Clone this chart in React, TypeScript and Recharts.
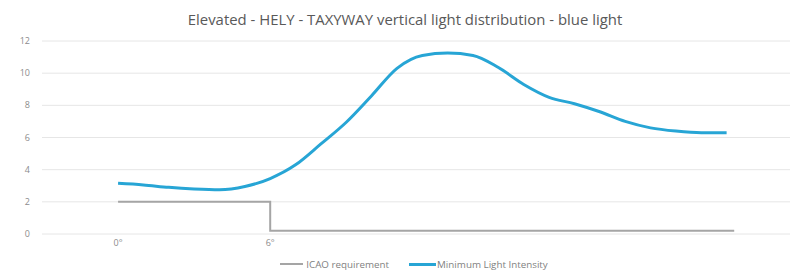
import React from 'react';
import { LineChart, Line, XAxis, YAxis, CartesianGrid, Legend } from 'recharts';

const degrees = [0, 1, 2, 3, 4, 5, 6, 7, 8, 9, 10, 11, 12, 13, 14, 15, 16, 17, 18, 19, 20, 21, 22, 23, 24];
const minIntensity = [3.15, 3.05, 2.9, 2.8, 2.75, 2.95, 3.45, 4.3, 5.6, 6.95, 8.6, 10.3, 11.1, 11.25, 11.1, 10.35, 9.3, 8.5, 8.1, 7.6, 7.0, 6.6, 6.4, 6.3, 6.3];
const icaoX = [0, 6, 6, 24.3];
const icaoY = [2, 2, 0.2, 0.2];
const yTicks = [0, 2, 4, 6, 8, 10, 12];
const xTicks = [0, 6];
const title = 'Elevated - HELY - TAXYWAY vertical light distribution - blue light';
const seriesNames = ['ICAO requirement', 'Minimum Light Intensity'];

const intensityData = degrees.map((d, i) => ({ x: d, intensity: minIntensity[i] }));
const icaoData = icaoX.map((d, i) => ({ x: d, icao: icaoY[i] }));

const FONT = '"Open Sans", sans-serif';
const BLUE = '#27a5d5';
const GRAY = '#a5a5a5';

const LegendContent = () => (
  <div style={{ display: 'flex', justifyContent: 'center', alignItems: 'center', fontFamily: FONT, fontSize: 9.8, color: '#7f7f7f', height: 20, paddingLeft: 26 }}>
    <span style={{ display: 'inline-block', width: 23, height: 2, background: GRAY, marginRight: 3 }} />
    <span style={{ marginRight: 20 }}>{seriesNames[0]}</span>
    <span style={{ display: 'inline-block', width: 27, height: 3, background: BLUE, marginRight: 1 }} />
    <span>{seriesNames[1]}</span>
  </div>
);

const YTick = (p: any) => (
  <text x={p.x} y={p.y} dx={-12} dy={3} textAnchor="end" fontFamily={FONT} fontSize={9} fill="#8c8c8c">
    {p.payload.value}
  </text>
);

export default function App() {
  return (
    <div style={{ position: 'absolute', left: 0, top: 0, width: 794, height: 277, background: '#fff' }}>
      <div style={{ position: 'absolute', left: 8, top: 8, width: 794, textAlign: 'center', fontFamily: FONT, fontSize: 14.9, lineHeight: '22px', color: '#595959' }}>
        {title}
      </div>
      <LineChart width={794} height={277} margin={{ top: 41, right: 4, bottom: 2, left: 12 }}>
        <CartesianGrid horizontal vertical={false} stroke="#e6e6e6" />
        <XAxis
          type="number"
          dataKey="x"
          domain={[-3, 26.5]}
          ticks={xTicks}
          tickFormatter={(v: number) => `${v}°`}
          axisLine={false}
          tickLine={false}
          tickSize={0}
          tickMargin={6}
          height={20}
          allowDataOverflow
          tick={{ fontFamily: FONT, fontSize: 9, fill: '#8c8c8c' }}
        />
        <YAxis
          type="number"
          domain={[0, 12]}
          ticks={yTicks}
          axisLine={false}
          tickLine={false}
          tickSize={0}
          tickMargin={0}
          width={30}
          tick={<YTick />}
        />
        <Legend verticalAlign="bottom" height={21} content={<LegendContent />} />
        <Line data={icaoData} dataKey="icao" name={seriesNames[0]} type="linear" stroke={GRAY} strokeWidth={2} dot={false} isAnimationActive={false} />
        <Line data={intensityData} dataKey="intensity" name={seriesNames[1]} type="monotone" stroke={BLUE} strokeWidth={3} dot={false} isAnimationActive={false} />
      </LineChart>
    </div>
  );
}
